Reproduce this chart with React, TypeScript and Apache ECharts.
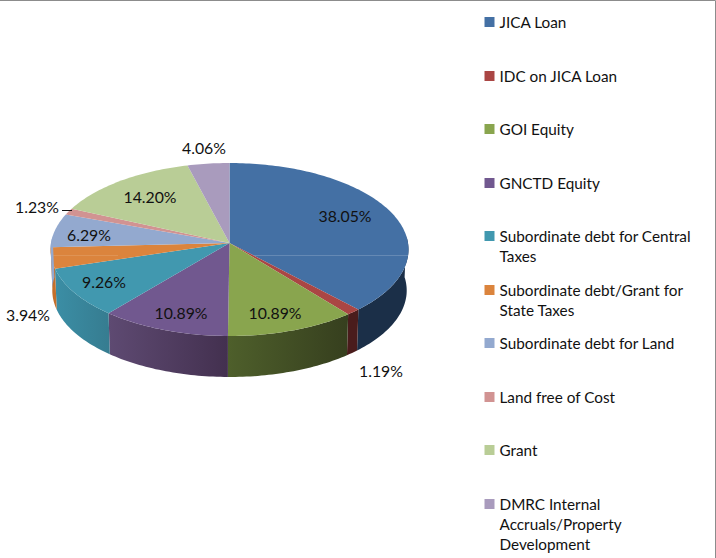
import React, { useEffect, useRef } from "react";
import * as echarts from "echarts";

const categories = [
  "JICA Loan",
  "IDC on JICA Loan",
  "GOI Equity",
  "GNCTD Equity",
  "Subordinate debt for Central\nTaxes",
  "Subordinate debt/Grant for\nState Taxes",
  "Subordinate debt for Land",
  "Land free of Cost",
  "Grant",
  "DMRC Internal\nAccruals/Property\nDevelopment",
];
const shares = [38.05, 1.19, 10.89, 10.89, 9.26, 3.94, 6.29, 1.23, 14.2, 4.06];
const topColors = ["#4470a4", "#aa4644", "#89a54e", "#71588f", "#4198af", "#db843d", "#93a9cf", "#d19392", "#b9cd96", "#a99bbd"];
const sideColors = [
  ["#1b2f48", "#1b2f48"],
  ["#4a1c1c", "#4a1c1c"],
  ["#4e5f2b", "#363f1e"],
  ["#5e4a72", "#43304f"],
  ["#3b8ea5", "#367c90"],
  ["#c46f2b", "#c46f2b"],
  ["#93a9cf", "#93a9cf"],
  ["#d19392", "#d19392"],
  ["#b9cd96", "#b9cd96"],
  ["#a99bbd", "#a99bbd"],
];
const labelAnchors = [
  [345, 215], [381, 370], [275, 312], [181, 312], [104, 281],
  [28, 314], [89, 234], [37, 206], [150, 196], [204, 147],
];
const legendRowY = [22, 76, 129, 183, 236, 290, 343, 397, 450, 504];

const FONT = "Lato";
const CX = 229.5, CY = 243, A = 178.5, B = 86, P = 0.0751, DEPTH = 41;
const LINE = 20;

function project(theta: number, depth = 0): number[] {
  const u = Math.sin(theta), v = -Math.cos(theta);
  const w = 1 - P * v;
  const s = depth ? 0.99 : 1;
  return [CX + (s * A * u) / w, CY + (B * v) / w + depth];
}
function arcPoints(a0: number, a1: number, depth = 0): number[][] {
  const n = Math.max(2, Math.ceil((a1 - a0) / 0.02));
  const pts: number[][] = [];
  for (let i = 0; i <= n; i++) pts.push(project(a0 + ((a1 - a0) * i) / n, depth));
  return pts;
}

const cumulative: number[] = [];
shares.reduce((s, v, i) => ((cumulative[i] = s), s + v), 0);

function renderSlice(idx: number) {
  return (_params: any, api: any) => {
    const value = api.value(0) as number;
    const a0 = (cumulative[idx] / 100) * Math.PI * 2;
    const a1 = a0 + (value / 100) * Math.PI * 2;
    const children: any[] = [];
    const FRONT0 = Math.PI / 2 - 0.08, FRONT1 = (3 * Math.PI) / 2 + 0.08;
    const s0 = Math.max(a0, FRONT0), s1 = Math.min(a1, FRONT1);
    if (s1 > s0) {
      const upper = arcPoints(s0, s1);
      const lower = arcPoints(s0, s1, DEPTH).reverse();
      children.push({
        type: "polygon",
        shape: { points: upper.concat(lower) },
        style: {
          fill: new echarts.graphic.LinearGradient(0, 0, 1, 0, [
            { offset: 0, color: sideColors[idx][0] },
            { offset: 1, color: sideColors[idx][1] },
          ]),
        },
      });
    }
    children.push({
      type: "polygon",
      shape: { points: [[CX, CY] as number[]].concat(arcPoints(a0, a1)) },
      style: { fill: topColors[idx] },
    });
    if (idx === 0) {
      children.push({ type: "line", shape: { x1: 254, y1: 255.5, x2: 408, y2: 255.5 }, style: { stroke: "rgba(255,255,255,0.18)", lineWidth: 1 } });
    }
    if (idx === 5) {
      children.push({ type: "line", shape: { x1: 50, y1: 255.5, x2: 118, y2: 255.5 }, style: { stroke: "rgba(255,255,255,0.12)", lineWidth: 1 } });
    }
    if (idx === 7) {
      children.push({ type: "line", shape: { x1: 62, y1: 210.5, x2: 72, y2: 210.5 }, style: { stroke: "#111", lineWidth: 1 } });
    }
    return { type: "group", children };
  };
}
function renderLabel(idx: number) {
  return (_params: any, api: any) => ({
    type: "text",
    x: labelAnchors[idx][0],
    y: labelAnchors[idx][1],
    z2: 100,
    style: {
      text: `${(api.value(0) as number).toFixed(2)}%`,
      fill: "#111",
      font: `15.8px ${FONT}`,
      align: "center",
      verticalAlign: "middle",
    },
  });
}

export default function App() {
  const ref = useRef<HTMLDivElement>(null);
  useEffect(() => {
    const chart = echarts.init(ref.current!, undefined, { renderer: "svg" });
    const series: any[] = categories.map((name, i) => ({
      type: "custom",
      name,
      coordinateSystem: "none",
      silent: true,
      z: 2,
      itemStyle: { color: topColors[i] },
      data: [[shares[i]]],
      renderItem: renderSlice(i),
    }));
    categories.forEach((_, i) =>
      series.push({
        type: "custom",
        name: `label-${i}`,
        coordinateSystem: "none",
        silent: true,
        z: 5,
        data: [[shares[i]]],
        renderItem: renderLabel(i),
      })
    );
    const legend = categories.map((name, i) => {
      const lines = name.split("\n").length;
      const total = 2 * lines - 1;
      return {
        data: [name],
        orient: "vertical",
        left: 484.5,
        top: legendRowY[i] - (total * LINE) / 2,
        padding: 0,
        itemWidth: 10,
        itemHeight: 10,
        itemGap: 0,
        icon: "rect",
        selectedMode: false,
        // leading blank lines keep the symbol level with the entry's first line
        formatter: (n: string) => "\n".repeat(lines - 1) + n,
        textStyle: {
          fontFamily: FONT,
          fontSize: 15.3,
          color: "#111",
          lineHeight: LINE,
        },
      };
    });
    chart.setOption({
      animation: false,
      backgroundColor: "#fff",
      legend,
      series,
      graphic: [
        { type: "polyline", silent: true, shape: { points: [[0, 0.5], [715.5, 0.5], [715.5, 558]] }, style: { fill: "none", stroke: "#8c8c8c", lineWidth: 1 } },
      ],
    });
    return () => chart.dispose();
  }, []);
  return <div ref={ref} style={{ position: "absolute", left: 0, top: 0, width: 716, height: 558 }} />;
}
